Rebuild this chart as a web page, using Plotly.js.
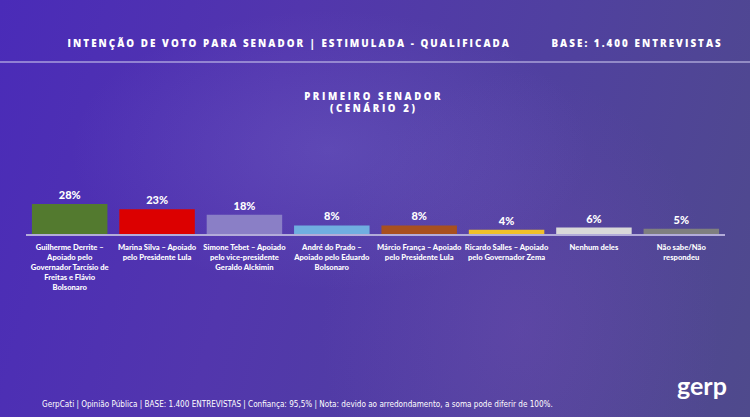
<!DOCTYPE html>
<html>
<head>
<meta charset="utf-8">
<script src="https://cdn.plot.ly/plotly-3.0.1.min.js"></script>
<style>
html,body{margin:0;padding:0;width:750px;height:417px;overflow:hidden;}
body{
  background:
    radial-gradient(ellipse 260px 140px at 330px 150px, rgba(140,130,220,0.22), rgba(140,130,220,0) 100%),
    radial-gradient(ellipse 200px 260px at 520px 330px, rgba(150,90,200,0.18), rgba(150,90,200,0) 100%),
    linear-gradient(105deg, #4a2bb8 0%, #5236ad 35%, #5040a0 65%, #4f4a8c 100%);
}
#chart{width:750px;height:417px;}
</style>
</head>
<body>
<div id="chart"></div>
<script>
const categories = ["Guilherme Derrite", "Marina Silva", "Simone Tebet", "André do Prado", "Márcio França", "Ricardo Salles", "Nenhum deles", "Não sabe/Não respondeu"];
const tickLabels = [
  "Guilherme Derrite –<br>Apoiado pelo<br>Governador Tarcísio de<br>Freitas e Flávio<br>Bolsonaro",
  "Marina Silva – Apoiado<br>pelo Presidente Lula",
  "Simone Tebet – Apoiado<br>pelo vice-presidente<br>Geraldo Alckimin",
  "André do Prado –<br>Apoiado pelo Eduardo<br>Bolsonaro",
  "Márcio França – Apoiado<br>pelo Presidente Lula",
  "Ricardo Salles – Apoiado<br>pelo Governador Zema",
  "Nenhum deles",
  "Não sabe/Não<br>respondeu"
];
const values = [28, 23, 18, 8, 8, 4, 6, 5];
const valueLabels = ["28%", "23%", "18%", "8%", "8%", "4%", "6%", "5%"];
const barColors = ["#537a2f", "#dc0000", "#8a7fc6", "#70aee0", "#a8501f", "#f0c02a", "#d9d9d9", "#7f7f7f"];

const headerLeft = "INTENÇÃO DE VOTO PARA SENADOR | ESTIMULADA - QUALIFICADA";
const headerRight = "BASE: 1.400 ENTREVISTAS";
const subtitle = "PRIMEIRO SENADOR<br>(CENÁRIO 2)";
const footer = "GerpCati | Opinião Pública | BASE: 1.400 ENTREVISTAS | Confiança: 95,5% | Nota: devido ao arredondamento, a soma pode diferir de 100%.";
const logo = "gerp";

// pixel -> paper helpers (plot area x 26..725, y 150..234)
const L = 26, R = 725, T = 150, B = 234;
const px = x => (x - L) / (R - L);
const py = y => (B - y) / (B - T);

const trace = {
  type: "bar",
  x: categories,
  y: values,
  text: valueLabels,
  textposition: "outside",
  textfont: {family: "Lato", size: 11, color: "#ffffff", weight: 900},
  marker: {color: barColors, line: {width: 0}},
  cliponaxis: false,
  hoverinfo: "none"
};

const layout = {
  width: 750, height: 417,
  margin: {l: L, r: 750 - R, t: T, b: 417 - B, pad: 0},
  paper_bgcolor: "rgba(0,0,0,0)",
  plot_bgcolor: "rgba(0,0,0,0)",
  bargap: 0.136,
  showlegend: false,
  font: {family: "Lato", color: "#ffffff"},
  xaxis: {
    tickvals: categories,
    ticktext: tickLabels,
    tickfont: {family: "Lato", size: 7.6, color: "#ffffff", weight: 900},
    showline: true, linecolor: "#b3acd9", linewidth: 2,
    showgrid: false, zeroline: false, ticks: "",
    ticklabelstandoff: 5,
    tickangle: 0, automargin: false
  },
  yaxis: {
    range: [0, 78.4],
    visible: false, showgrid: false, zeroline: false, fixedrange: true
  },
  shapes: [
    {type: "line", xref: "paper", yref: "paper", x0: px(0), x1: px(750), y0: py(62), y1: py(62),
     line: {color: "rgba(200,195,235,0.75)", width: 1.5}}
  ],
  annotations: [
    {text: headerLeft, xref: "paper", yref: "paper", x: px(289), y: py(43), xanchor: "center", yanchor: "middle",
     showarrow: false, font: {family: "Open Sans", size: 9.8, color: "#ffffff", weight: 800}},
    {text: headerRight, xref: "paper", yref: "paper", x: px(637), y: py(43), xanchor: "center", yanchor: "middle",
     showarrow: false, font: {family: "Open Sans", size: 9.8, color: "#ffffff", weight: 800}},
    {text: subtitle, xref: "paper", yref: "paper", x: px(374), y: py(102), xanchor: "center", yanchor: "middle",
     showarrow: false, font: {family: "Open Sans", size: 9.6, color: "#ffffff", weight: 800}},
    {text: footer, xref: "paper", yref: "paper", x: px(40), y: py(404), xanchor: "left", yanchor: "middle",
     showarrow: false, font: {family: "Liberation Sans Narrow, DejaVu Sans Condensed", size: 8.1, color: "#ffffff"}},
    {text: logo, xref: "paper", yref: "paper", x: px(702), y: py(385), xanchor: "center", yanchor: "middle",
     showarrow: false, font: {family: "Lato", size: 25, color: "#ffffff", weight: 700}}
  ]
};

Plotly.newPlot("chart", [trace], layout, {displayModeBar: false, staticPlot: true}).then(gd => {
  const texts = gd.querySelectorAll(".annotation-text");
  const spacing = ["2.05px", "2.05px", "2.6px", null, null];
  texts.forEach((t, i) => { if (spacing[i]) t.style.letterSpacing = spacing[i]; });
});
</script>
</body>
</html>
